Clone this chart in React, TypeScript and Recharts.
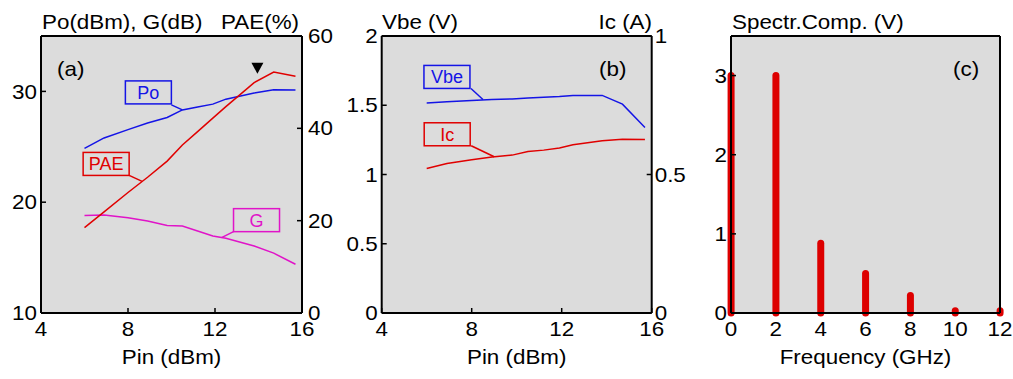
import { LineChart, BarChart, Line, Bar, XAxis, YAxis, CartesianGrid, ReferenceDot } from 'recharts'

// Pin sweep (dBm) shared by panels (a) and (b)
const pin = [6, 6.9, 8, 8.9, 9.8, 10.5, 11.2, 11.9, 12.5, 13.8, 14.7, 15.7]
// panel (a)
const po = [24.85, 25.8, 26.55, 27.15, 27.65, 28.33, 28.6, 28.85, 29.3, 29.85, 30.15, 30.12]
const gain = [18.8, 18.85, 18.6, 18.3, 17.9, 17.85, 17.4, 16.95, 16.75, 16.05, 15.4, 14.4]
const pae = [18.5, 21.9, 26.1, 29.4, 32.9, 36.4, 39.3, 42.2, 44.7, 49.9, 52.2, 51.3]
// panel (b)
const vbe = [1.517, 1.525, 1.535, 1.542, 1.546, 1.553, 1.558, 1.563, 1.57, 1.571, 1.508, 1.34]
const ic = [0.522, 0.54, 0.553, 0.563, 0.57, 0.583, 0.588, 0.596, 0.607, 0.622, 0.627, 0.626]
// panel (c)
const freq = [0, 2, 4, 6, 8, 10, 12]
const spectr = [3.0, 3.0, 0.88, 0.5, 0.22, 0.03, 0.03]

const pinTicks = [4, 8, 12, 16]
const leftTicksA = [10, 20, 30]
const rightTicksA = [0, 20, 40, 60]
const leftTicksB = [0, 0.5, 1, 1.5, 2]
const rightTicksB = [0, 0.5, 1]
const freqTicks = [0, 2, 4, 6, 8, 10, 12]
const specTicks = [0, 1, 2, 3]

const dataA = pin.map((p, i) => ({ pin: p, po: po[i], g: gain[i], pae: pae[i] }))
const dataB = pin.map((p, i) => ({ pin: p, vbe: vbe[i], ic: ic[i] }))
const dataC = freq.map((f, i) => ({ f, v: spectr[i] }))

const FONT = '"Liberation Sans", Arial, sans-serif'
const BLUE = '#1414e6'
const RED = '#e00000'
const MAGENTA = '#e014c8'
const BG = '#dcdcdc'
const STRETCH = 1.12

const axisLine = { stroke: '#000', strokeWidth: 2 }
const tickLine = { stroke: '#000', strokeWidth: 1.5 }

// text slightly widened, like the original figure's lettering
function Wide({ x, y, anchor = 'start', dy = 0, children }: any) {
  return (
    <text transform={`translate(${x},${y}) scale(${STRETCH},1)`} dy={dy} textAnchor={anchor}
      fontFamily={FONT} fontSize={20} fill="#000">
      {children}
    </text>
  )
}

const WideTick = (props: any) => {
  const { x, y, payload, textAnchor, verticalAnchor } = props
  const dy = verticalAnchor === 'start' ? '0.71em' : verticalAnchor === 'end' ? '0' : '0.355em'
  return <Wide x={x} y={y} anchor={textAnchor} dy={dy}>{String(payload.value)}</Wide>
}

// callout box with a leader line, drawn relative to a point on the curve
function callout(color: string, text: string, bx: number, by: number, tx: number, ty: number) {
  return (props: any) => {
    const { cx, cy } = props
    const w = 46
    const h = 23
    return (
      <g>
        <line x1={cx + tx} y1={cy + ty} x2={cx} y2={cy} stroke={color} strokeWidth={1.5} />
        <rect x={cx + bx} y={cy + by} width={w} height={h} fill="none" stroke={color} strokeWidth={1.5} />
        <text x={cx + bx + w / 2} y={cy + by + h / 2 + 6.5} textAnchor="middle" fontSize={18} fontFamily={FONT} fill={color}>
          {text}
        </text>
      </g>
    )
  }
}

const triangle = (props: any) => {
  const { cx, cy } = props
  return <polygon points={`${cx - 6},${cy - 5.5} ${cx + 6},${cy - 5.5} ${cx},${cy + 5.5}`} fill="#000" />
}

const SpectralLine = (props: any) => {
  const { x, y, width, height } = props
  const xc = x + width / 2
  return <line x1={xc} y1={y} x2={xc} y2={y + height} stroke="#dd0000" strokeWidth={7} strokeLinecap="round" />
}

export default function App() {
  return (
    <div style={{ position: 'absolute', left: 0, top: 0, width: 1013, height: 379, background: '#fff', fontFamily: FONT }}>
      <div style={{ position: 'absolute', left: 0, top: 0 }}>
        <LineChart width={340} height={379} data={dataA} margin={{ top: 35, right: 37, bottom: 65, left: 40 }}>
          <CartesianGrid fill={BG} stroke="none" horizontal={false} vertical={false} />
          <XAxis dataKey="pin" type="number" domain={[4, 16]} ticks={pinTicks} height={1} tick={WideTick}
            axisLine={axisLine} tickLine={tickLine} tickSize={-5} tickMargin={14} />
          <XAxis xAxisId="top" orientation="top" dataKey="pin" type="number" domain={[4, 16]} height={1}
            tick={false} tickLine={false} axisLine={axisLine} />
          <YAxis yAxisId="left" domain={[10, 35]} ticks={leftTicksA} width={1} tick={WideTick}
            axisLine={axisLine} tickLine={tickLine} tickSize={-5} tickMargin={9} />
          <YAxis yAxisId="right" orientation="right" domain={[0, 60]} ticks={rightTicksA} width={1} tick={WideTick}
            axisLine={axisLine} tickLine={tickLine} tickSize={-5} tickMargin={11} />
          <Line yAxisId="left" dataKey="po" stroke={BLUE} strokeWidth={1.5} dot={false} isAnimationActive={false} />
          <Line yAxisId="left" dataKey="g" stroke={MAGENTA} strokeWidth={1.5} dot={false} isAnimationActive={false} />
          <Line yAxisId="right" dataKey="pae" stroke={RED} strokeWidth={1.5} dot={false} isAnimationActive={false} />
          <ReferenceDot yAxisId="left" x={10.5} y={28.33} shape={callout(BLUE, 'Po', -57, -29, -11, -5)} />
          <ReferenceDot yAxisId="right" x={8.65} y={28.5} shape={callout(RED, 'PAE', -59, -29, -13, -6)} />
          <ReferenceDot yAxisId="left" x={12.3} y={16.8} shape={callout(MAGENTA, 'G', 12, -29, 12, -6)} />
          <ReferenceDot yAxisId="right" x={13.95} y={53} shape={triangle} />
        </LineChart>
      </div>

      <div style={{ position: 'absolute', left: 335, top: 0 }}>
        <LineChart width={365} height={379} data={dataB} margin={{ top: 35, right: 47.3, bottom: 65, left: 45.7 }}>
          <CartesianGrid fill={BG} stroke="none" horizontal={false} vertical={false} />
          <XAxis dataKey="pin" type="number" domain={[4, 16]} ticks={pinTicks} height={1} tick={WideTick}
            axisLine={axisLine} tickLine={tickLine} tickSize={-5} tickMargin={14} />
          <XAxis xAxisId="top" orientation="top" dataKey="pin" type="number" domain={[4, 16]} height={1}
            tick={false} tickLine={false} axisLine={axisLine} />
          <YAxis yAxisId="left" domain={[0, 2]} ticks={leftTicksB} width={1} tick={WideTick}
            axisLine={axisLine} tickLine={tickLine} tickSize={-5} tickMargin={9} />
          <YAxis yAxisId="right" orientation="right" domain={[0, 1]} ticks={rightTicksB} width={1} tick={WideTick}
            axisLine={axisLine} tickLine={tickLine} tickSize={-5} tickMargin={8} />
          <Line yAxisId="left" dataKey="vbe" stroke={BLUE} strokeWidth={1.5} dot={false} isAnimationActive={false} />
          <Line yAxisId="right" dataKey="ic" stroke={RED} strokeWidth={1.5} dot={false} isAnimationActive={false} />
          <ReferenceDot yAxisId="left" x={8.5} y={1.542} shape={callout(BLUE, 'Vbe', -59, -34, -12, -11)} />
          <ReferenceDot yAxisId="right" x={9.0} y={0.564} shape={callout(RED, 'Ic', -70, -34, -23, -11)} />
        </LineChart>
      </div>

      <div style={{ position: 'absolute', left: 700, top: 0 }}>
        <BarChart width={313} height={379} data={dataC} margin={{ top: 35, right: 12, bottom: 65, left: 30 }}>
          <CartesianGrid fill={BG} stroke="none" horizontal={false} vertical={false} />
          <XAxis dataKey="f" type="number" domain={[0, 12]} ticks={freqTicks} height={1} tick={WideTick}
            axisLine={axisLine} tickLine={false} tickSize={0} tickMargin={9} />
          <XAxis xAxisId="top" orientation="top" dataKey="f" type="number" domain={[0, 12]} height={1}
            tick={false} tickLine={false} axisLine={axisLine} />
          <YAxis domain={[0, 3.5]} ticks={specTicks} width={1} tick={WideTick}
            axisLine={axisLine} tickLine={tickLine} tickSize={-5} tickMargin={9} />
          <YAxis yAxisId="r" orientation="right" domain={[0, 3.5]} width={1} tick={false} tickLine={false} axisLine={axisLine} />
          <Bar dataKey="v" barSize={7} shape={SpectralLine} isAnimationActive={false} />
        </BarChart>
      </div>

      <svg width={1013} height={379} style={{ position: 'absolute', left: 0, top: 0, pointerEvents: 'none' }}>
        <Wide x={42} y={29}>Po(dBm), G(dB)</Wide>
        <Wide x={299} y={29} anchor="end">PAE(%)</Wide>
        <Wide x={382} y={29}>Vbe (V)</Wide>
        <Wide x={652} y={29} anchor="end">Ic (A)</Wide>
        <Wide x={732} y={29}>Spectr.Comp. (V)</Wide>
        <Wide x={57} y={76}>(a)</Wide>
        <Wide x={599} y={76}>(b)</Wide>
        <Wide x={953} y={76}>(c)</Wide>
        <Wide x={171.5} y={364} anchor="middle">Pin (dBm)</Wide>
        <Wide x={516.7} y={364} anchor="middle">Pin (dBm)</Wide>
        <Wide x={865.5} y={364} anchor="middle">Frequency (GHz)</Wide>
      </svg>
    </div>
  )
}
